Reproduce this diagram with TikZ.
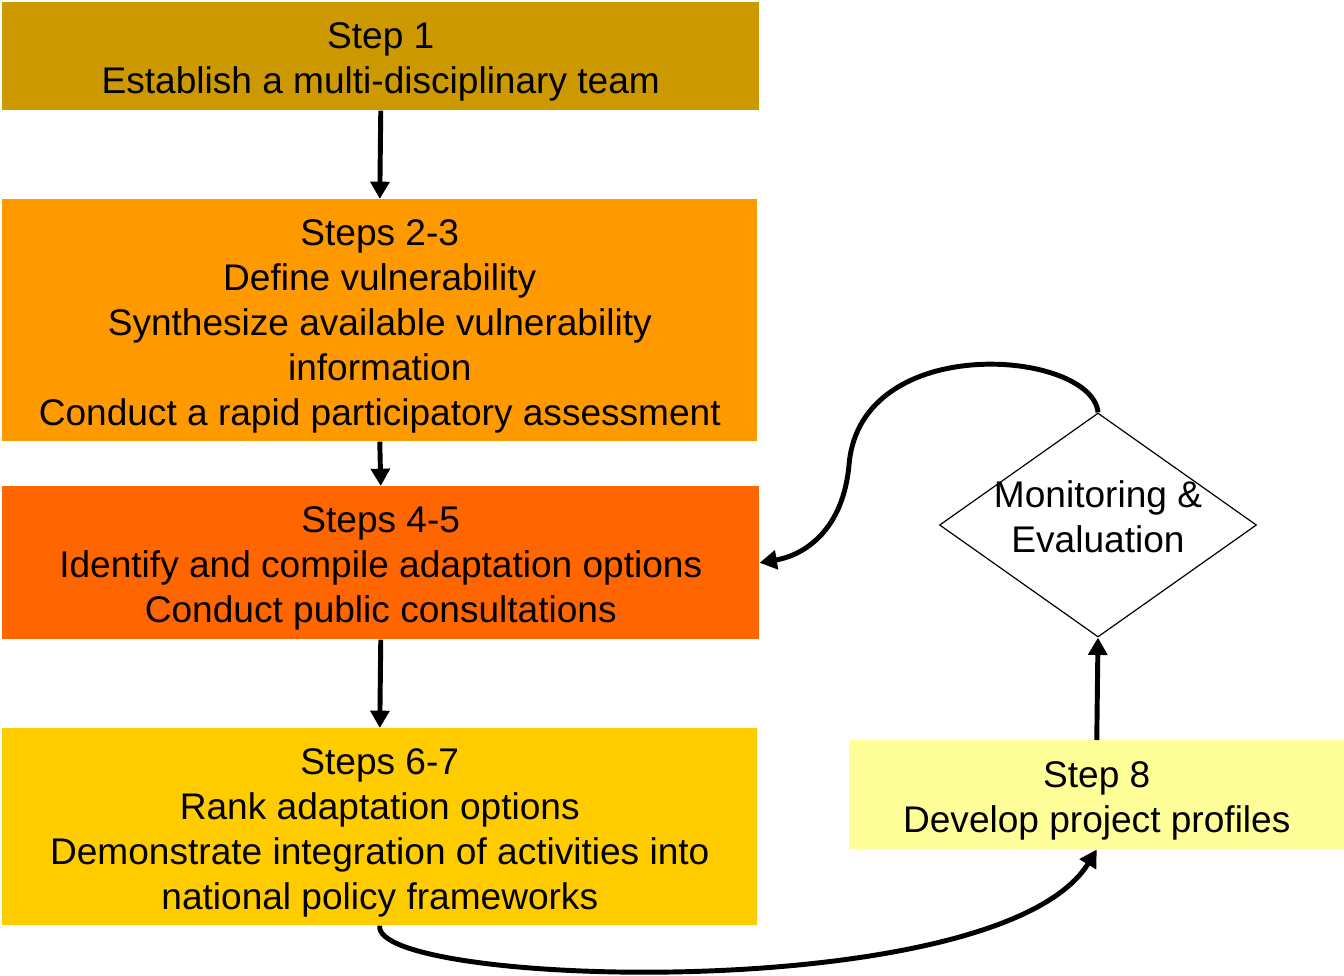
\documentclass[tikz,border=0pt]{standalone}
\usepackage{fontspec}
\setmainfont{Liberation Sans}
\usetikzlibrary{shapes.geometric,arrows.meta}
\definecolor{cStepA}{HTML}{CC9900}
\definecolor{cStepB}{HTML}{FF9900}
\definecolor{cStepC}{HTML}{FF6600}
\definecolor{cStepD}{HTML}{FFCC00}
\definecolor{cStepE}{HTML}{FFFF99}
\newcommand\tallstrut{\rule{0pt}{28pt}}
\tikzset{
  stepbox/.style={rectangle, inner sep=0pt, align=center, anchor=north west,
    font=\fontsize{27.8pt}{33.75pt}\selectfont},
  conn/.style={line width=3.7pt, -{Triangle[length=13pt,width=14pt]}},
}
\begin{document}
\begin{tikzpicture}[x=0.75pt,y=-0.75pt]
\useasboundingbox (0,0) rectangle (1344,975);
\node[stepbox, fill=cStepA, minimum width=757*0.75pt, minimum height=108*0.75pt] (s1) at (2,2)
  {\tallstrut Step 1\\Establish a multi-disciplinary team};
\node[stepbox, fill=cStepB, minimum width=755*0.75pt, minimum height=242*0.75pt] (s23) at (2,199)
  {\tallstrut Steps 2-3\\Define vulnerability\\Synthesize available vulnerability\\information\\Conduct a rapid participatory assessment};
\node[stepbox, fill=cStepC, minimum width=757*0.75pt, minimum height=153*0.75pt] (s45) at (2,486)
  {\tallstrut Steps 4-5\\Identify and compile adaptation options\\Conduct public consultations};
\node[stepbox, fill=cStepD, minimum width=755*0.75pt, minimum height=197*0.75pt] (s67) at (2,728)
  {\tallstrut Steps 6-7\\Rank adaptation options\\Demonstrate integration of activities into\\national policy frameworks};
\node[stepbox, fill=cStepE, minimum width=495*0.75pt, minimum height=109*0.75pt] (s8) at (849,740)
  {\tallstrut Step 8\\Develop project profiles};
\node[diamond, draw=black, line width=0.9pt, inner sep=0pt, minimum width=317*0.75pt, minimum height=224*0.75pt] (me) at (1098,525) {};
\node[align=center, inner sep=0pt, font=\fontsize{27.8pt}{33.75pt}\selectfont] (metext) at (1098,517)
  {Monitoring \&\\Evaluation};
\draw[conn] (s1.south) -- (s23.north);
\draw[conn] (s23.south) -- (s45.north);
\draw[conn] (s45.south) -- (s67.north);
\draw[conn] (s8.north) -- (me.south);
\draw[conn] (me.north) .. controls (1092,350) and (860,330) .. (849,465)
  .. controls (843,530) and (805,555) .. (s45.east);
\draw[conn] (s67.south) .. controls (370,987) and (1000,1007) .. (s8.south);
\end{tikzpicture}
\end{document}
